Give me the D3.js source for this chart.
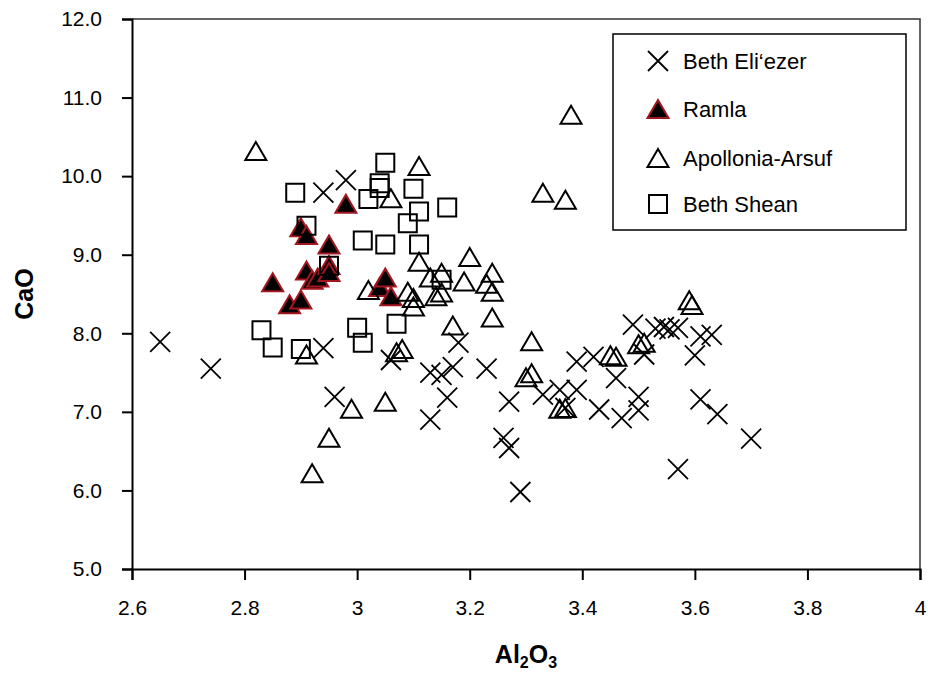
<!DOCTYPE html>
<html lang="en">
<head>
    <meta charset="UTF-8">
    <title>CaO vs Al2O3</title>
    <script src="https://d3js.org/d3.v7.min.js"></script>
    <style>
        body {
            margin: 0;
            font-family: "Liberation Sans", Arial, sans-serif;
            background: #fff;
        }
        .axis path, .axis line {
            stroke: #000;
            stroke-width: 2px;
        }
    </style>
</head>
<body>
    <div id="chart"></div>
    <script>
        // data: [Al2O3, CaO]
        const bethEliezer = [
            [2.65, 7.89], [2.74, 7.55], [2.94, 9.79], [2.98, 9.95], [2.94, 7.81], [2.96, 7.19],
            [3.06, 7.66], [3.18, 7.88], [3.13, 7.50], [3.15, 7.47], [3.17, 7.57], [3.16, 7.18],
            [3.13, 6.90], [3.23, 7.55], [3.27, 7.13], [3.26, 6.67], [3.27, 6.54], [3.29, 5.98],
            [3.33, 7.22], [3.36, 7.28], [3.39, 7.28], [3.37, 7.05], [3.39, 7.64], [3.42, 7.70],
            [3.46, 7.43], [3.43, 7.03], [3.47, 6.92], [3.50, 7.19], [3.50, 7.02], [3.49, 8.11],
            [3.51, 7.73], [3.53, 8.06], [3.545, 8.08], [3.555, 8.05], [3.57, 8.07], [3.61, 7.96],
            [3.63, 7.98], [3.60, 7.72], [3.61, 7.16], [3.64, 6.97], [3.70, 6.66], [3.57, 6.27]
        ];
        const ramla = [
            [2.85, 8.65], [2.88, 8.37], [2.90, 8.43], [2.90, 9.35], [2.91, 9.25], [2.91, 8.80],
            [2.92, 8.68], [2.93, 8.71], [2.95, 9.13], [2.95, 8.87], [2.95, 8.78], [2.98, 9.65],
            [3.04, 8.59], [3.05, 8.71], [3.06, 8.47]
        ];
        const apollonia = [
            [2.82, 10.32], [3.38, 10.78], [3.33, 9.79], [3.37, 9.70], [3.11, 10.13], [3.06, 9.72],
            [3.11, 8.91], [3.20, 8.97], [3.24, 8.77], [3.15, 8.77], [3.13, 8.71], [3.19, 8.66],
            [3.23, 8.63], [3.24, 8.53], [3.15, 8.52], [3.09, 8.53], [3.10, 8.45], [3.14, 8.47],
            [3.24, 8.20], [3.17, 8.10], [3.10, 8.34], [3.02, 8.55], [3.31, 7.90], [3.31, 7.49],
            [3.30, 7.44], [3.08, 7.80], [3.07, 7.76], [2.91, 7.73], [2.99, 7.04], [3.05, 7.13],
            [2.95, 6.67], [2.92, 6.22], [3.36, 7.04], [3.37, 7.05], [3.45, 7.72], [3.46, 7.70],
            [3.50, 7.86], [3.51, 7.88], [3.59, 8.42], [3.595, 8.36]
        ];
        const bethShean = [
            [2.89, 9.79], [2.91, 9.37], [3.02, 9.71], [3.05, 10.17], [3.04, 9.91], [3.04, 9.85],
            [3.10, 9.84], [3.11, 9.55], [3.09, 9.40], [3.16, 9.60], [3.01, 9.18], [3.05, 9.13],
            [3.11, 9.13], [2.95, 8.86], [3.15, 8.68], [2.83, 8.04], [2.85, 7.82], [2.90, 7.80],
            [3.00, 8.07], [3.01, 7.88], [3.07, 8.12]
        ];
        const seriesNames = ["Beth Eli\u2018ezer", "Ramla", "Apollonia-Arsuf", "Beth Shean"];
        const xTicks = [2.6, 2.8, 3.0, 3.2, 3.4, 3.6, 3.8, 4.0];
        const yTicks = [5, 6, 7, 8, 9, 10, 11, 12];

        const width = 928, height = 677;
        const margin = { top: 19, right: 8, bottom: 108, left: 132 };
        const innerW = width - margin.left - margin.right;
        const innerH = height - margin.top - margin.bottom;
        const font = '"Liberation Sans", Arial, sans-serif';

        const x = d3.scaleLinear().domain([2.6, 4]).range([0, innerW]);
        const y = d3.scaleLinear().domain([5, 12]).range([innerH, 0]);

        const svg = d3.select("#chart").append("svg")
            .attr("width", width)
            .attr("height", height);

        const g = svg.append("g")
            .attr("transform", `translate(${margin.left},${margin.top})`);

        // frame (top + right)
        g.append("path")
            .attr("d", `M0,0H${innerW}V${innerH}`)
            .attr("fill", "none")
            .attr("stroke", "#333")
            .attr("stroke-width", 1.5);

        const xAxis = g.append("g")
            .attr("class", "axis")
            .attr("transform", `translate(0,${innerH})`)
            .call(d3.axisBottom(x).tickValues(xTicks).tickSize(11).tickPadding(20)
                .tickFormat(d => d === 3 ? "3" : d === 4 ? "4" : d3.format(".1f")(d)));

        const yAxis = g.append("g")
            .attr("class", "axis")
            .call(d3.axisLeft(y).tickValues(yTicks).tickSize(10).tickPadding(20)
                .tickFormat(d3.format(".1f")));

        [xAxis, yAxis].forEach(a => a.selectAll("text")
            .style("font-size", "21px")
            .style("font-family", font)
            .attr("fill", "#000"));

        // marker shapes
        function crossPath(s) {
            return `M${-s},${-s}L${s},${s}M${-s},${s}L${s},${-s}`;
        }
        function triPath(w, h) {
            return `M0,${-h / 2}L${w / 2},${h / 2}L${-w / 2},${h / 2}Z`;
        }
        function squarePath(s) {
            return `M${-s},${-s}H${s}V${s}H${-s}Z`;
        }

        const styles = [
            { d: crossPath(10), fill: "none", stroke: "#000", sw: 1.8 },
            { d: triPath(21, 18), fill: "#000", stroke: "#a3161f", sw: 2 },
            { d: triPath(21, 18), fill: "none", stroke: "#000", sw: 2 },
            { d: squarePath(9), fill: "none", stroke: "#000", sw: 2 }
        ];

        [bethEliezer, ramla, apollonia, bethShean].forEach((data, i) => {
            const st = styles[i];
            g.append("g").selectAll("path")
                .data(data)
                .enter().append("path")
                .attr("transform", d => `translate(${x(d[0])},${y(d[1])})`)
                .attr("d", st.d)
                .attr("fill", st.fill)
                .attr("stroke", st.stroke)
                .attr("stroke-width", st.sw);
        });

        // legend
        const legend = svg.append("g").attr("transform", "translate(613,34)");
        legend.append("rect")
            .attr("width", 293)
            .attr("height", 196)
            .attr("fill", "#fff")
            .attr("stroke", "#000")
            .attr("stroke-width", 1.5);

        const rowY = [27, 75, 124, 170];
        seriesNames.forEach((name, i) => {
            const st = styles[i];
            legend.append("path")
                .attr("transform", `translate(45,${rowY[i]})`)
                .attr("d", st.d)
                .attr("fill", st.fill)
                .attr("stroke", st.stroke)
                .attr("stroke-width", st.sw);
            legend.append("text")
                .attr("x", 70)
                .attr("y", rowY[i])
                .attr("dy", "0.36em")
                .style("font-size", "22px")
                .text(name);
        });

        // axis titles
        const xt = svg.append("text")
            .attr("x", margin.left + innerW / 2)
            .attr("y", 663)
            .attr("text-anchor", "middle")
            .style("font-size", "25px")
            .style("font-weight", "bold");
        xt.append("tspan").text("Al");
        xt.append("tspan").text("2").attr("dy", 5).style("font-size", "16px");
        xt.append("tspan").text("O").attr("dy", -5);
        xt.append("tspan").text("3").attr("dy", 5).style("font-size", "16px");

        svg.append("text")
            .attr("transform", `translate(33,${margin.top + innerH / 2}) rotate(-90)`)
            .attr("text-anchor", "middle")
            .style("font-size", "25px")
            .style("font-weight", "bold")
            .text("CaO");
    </script>
</body>
</html>
